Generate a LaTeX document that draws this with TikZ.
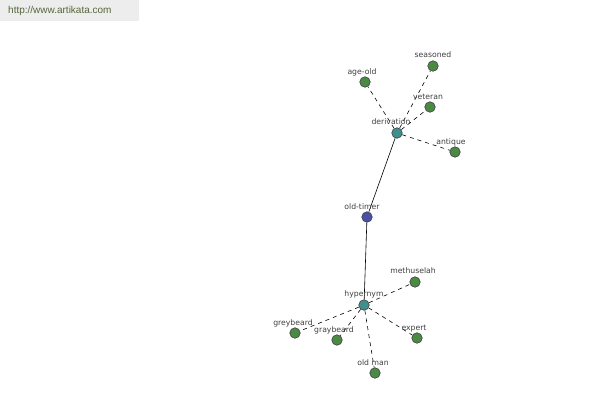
\documentclass[tikz,border=0pt]{standalone}
\usepackage{fontspec}
\setmainfont{DejaVu Sans}
\newfontfamily\urlfont{Liberation Sans}
\definecolor{leaf}{HTML}{4A8A45}
\definecolor{rel}{HTML}{3F8F8F}
\definecolor{root}{HTML}{4A50A8}
\definecolor{txt}{HTML}{404040}
\definecolor{urlgreen}{HTML}{55663A}
\definecolor{hdr}{HTML}{EDEDED}
\tikzset{
  dot/.style={circle,draw=black!75,line width=0.6pt,inner sep=0pt,minimum size=10.5pt},
  leafdot/.style={dot,fill=leaf},
  reldot/.style={dot,fill=rel},
  rootdot/.style={dot,fill=root},
  lab/.style={font=\fontsize{7.7}{8}\selectfont,text=txt,inner sep=0pt,anchor=base},
  solidedge/.style={draw=black,line width=0.6pt},
  dashededge/.style={draw=black,line width=0.6pt,dash pattern=on 4pt off 4pt}
}
\begin{document}
\begin{tikzpicture}[x=1pt,y=-1pt]
\useasboundingbox[fill=white] (0,0) rectangle (600,400);
\fill[hdr] (0,0) rectangle (139,21);
\node[anchor=west,inner sep=0pt,text=urlgreen,font=\urlfont\fontsize{10}{12}\selectfont] (url) at (8,11) {http://www.artikata.com};

\node[rootdot] (oldtimer) at (367,217) {};
\node[reldot] (derivation) at (397,133) {};
\node[reldot] (hypernym) at (364,305) {};

\node[leafdot] (ageold) at (365,82) {};
\node[leafdot] (seasoned) at (433,66) {};
\node[leafdot] (veteran) at (430,107) {};
\node[leafdot] (antique) at (455,152) {};

\node[leafdot] (methuselah) at (415,282) {};
\node[leafdot] (greybeard) at (295,333) {};
\node[leafdot] (graybeard) at (337,340) {};
\node[leafdot] (expert) at (417,338) {};
\node[leafdot] (oldman) at (375,373) {};

\draw[solidedge] (derivation) -- (oldtimer);
\draw[solidedge] (oldtimer) -- (hypernym);
\foreach \n in {ageold,seasoned,veteran,antique}
  \draw[dashededge] (derivation) -- (\n);
\foreach \n in {methuselah,greybeard,graybeard,expert,oldman}
  \draw[dashededge] (hypernym) -- (\n);

\node[lab] (loldtimer) at (362,209) {old-timer};
\node[lab] (lderivation) at (391,124) {derivation};
\node[lab] (lhypernym) at (364,296) {hypernym};
\node[lab] (lageold) at (362,74) {age-old};
\node[lab] (lseasoned) at (433,57) {seasoned};
\node[lab] (lveteran) at (428,99) {veteran};
\node[lab] (lantique) at (451,144) {antique};
\node[lab] (lmethuselah) at (413,273) {methuselah};
\node[lab] (lgreybeard) at (293,325) {greybeard};
\node[lab] (lgraybeard) at (334,332) {graybeard};
\node[lab] (lexpert) at (414,330) {expert};
\node[lab] (loldman) at (373,365) {old man};
\end{tikzpicture}
\end{document}
